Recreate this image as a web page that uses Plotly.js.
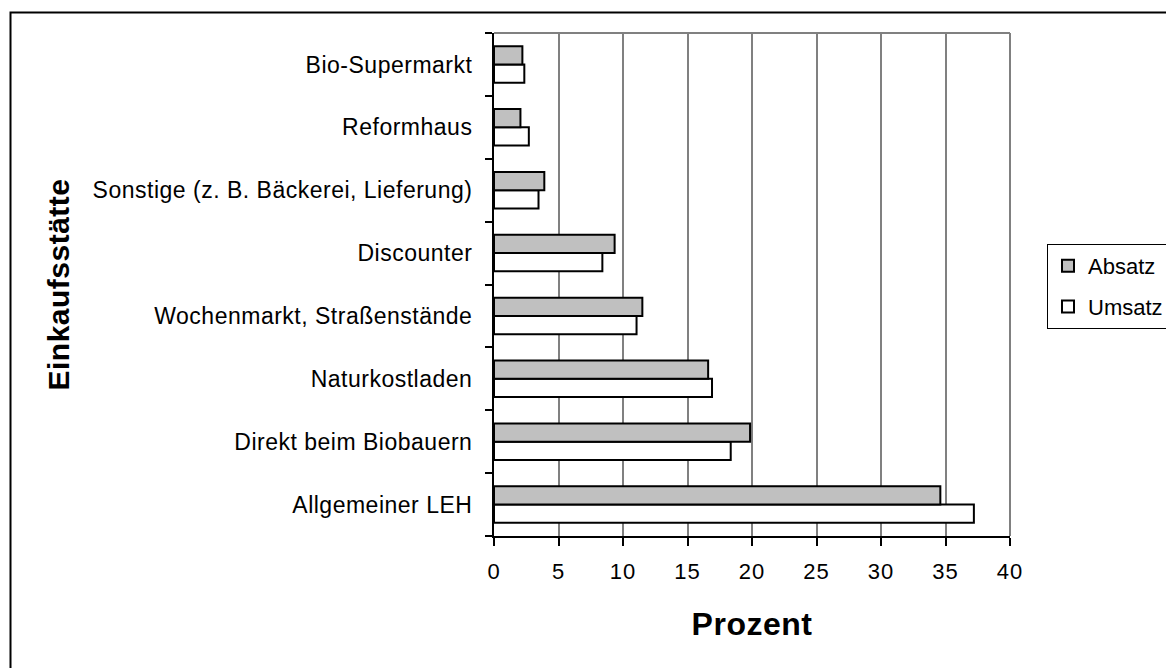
<!DOCTYPE html>
<html>
<head>
<meta charset="utf-8">
<script src="https://cdn.plot.ly/plotly-3.0.1.min.js"></script>
<style>
html, body { margin: 0; padding: 0; background: #fff; }
#chart { width: 1166px; height: 668px; }
#chart .ytick text { letter-spacing: 0.5px; }
#chart .xtick text { letter-spacing: 1px; }
#chart .g-xtitle text, #chart .g-ytitle text { letter-spacing: 0.5px; }
</style>
</head>
<body>
<div id="chart"></div>
<script>
// Categories, bottom to top
const categories = [
  "Allgemeiner LEH",
  "Direkt beim Biobauern",
  "Naturkostladen",
  "Wochenmarkt, Straßenstände",
  "Discounter",
  "Sonstige (z. B. Bäckerei, Lieferung)",
  "Reformhaus",
  "Bio-Supermarkt"
];
const absatz = [34.6, 19.85, 16.6, 11.5, 9.35, 3.9, 2.05, 2.2];
const umsatz = [37.2, 18.35, 16.9, 11.05, 8.4, 3.45, 2.7, 2.35];
const xTicks = [0, 5, 10, 15, 20, 25, 30, 35, 40];
const seriesNames = ["Absatz", "Umsatz"];

const FONT = "Liberation Sans, Arial, Helvetica, sans-serif";

const traceUmsatz = {
  type: "bar", orientation: "h",
  name: seriesNames[1], x: umsatz, y: categories,
  marker: { color: "#FFFFFF", line: { color: "#000000", width: 2 } },
  legendgroup: "u", legendrank: 2, hoverinfo: "x+name"
};
const traceAbsatz = {
  type: "bar", orientation: "h",
  name: seriesNames[0], x: absatz, y: categories,
  marker: { color: "#C0C0C0", line: { color: "#000000", width: 2 } },
  legendgroup: "a", legendrank: 1, hoverinfo: "x+name"
};

const W = 1166, H = 668;
const L = 494, R = 1010, T = 33, B = 536;
const px = v => (v - L) / (R - L);
const py = v => (B - v) / (B - T);

const layout = {
  width: W, height: H,
  margin: { l: L, r: W - R, t: T, b: H - B, pad: 0, autoexpand: false },
  paper_bgcolor: "#FFFFFF", plot_bgcolor: "#FFFFFF",
  font: { family: FONT, size: 22, color: "#000000" },
  barmode: "group", bargap: 0.42, bargroupgap: 0,
  showlegend: true,
  legend: {
    x: px(1047), y: py(244), xanchor: "left", yanchor: "top",
    bordercolor: "#000000", borderwidth: 1, bgcolor: "#FFFFFF",
    font: { family: FONT, size: 22, color: "#000000" },
    traceorder: "grouped", tracegroupgap: 9,
    entrywidth: 95, entrywidthmode: "pixels"
  },
  xaxis: {
    range: [0, 40], tickvals: xTicks, ticktext: xTicks.map(String),
    showgrid: true, gridcolor: "#808080", gridwidth: 2,
    showline: true, linecolor: "#000000", linewidth: 2,
    ticks: "outside", ticklen: 8, tickwidth: 2, tickcolor: "#000000",
    zeroline: false, fixedrange: true, automargin: false,
    tickfont: { family: FONT, size: 22, color: "#000000" },
    ticklabelstandoff: 7,
    title: { text: "Prozent", font: { family: FONT, size: 32, color: "#000000", weight: "bold" }, standoff: 29 }
  },
  yaxis: {
    type: "category", categoryorder: "array", categoryarray: categories,
    showgrid: false, showline: true, linecolor: "#000000", linewidth: 2,
    ticks: "outside", tickson: "boundaries", ticklen: 7, tickwidth: 2, tickcolor: "#000000",
    zeroline: false, fixedrange: true, automargin: false,
    tickfont: { family: FONT, size: 23, color: "#000000" },
    ticklabelstandoff: 15,
    title: { text: "Einkaufsstätte", font: { family: FONT, size: 30, color: "#000000", weight: "bold" }, standoff: 32 }
  },
  shapes: [
    { type: "line", xref: "paper", yref: "paper", x0: 0, x1: 1, y0: 1, y1: 1, line: { color: "#808080", width: 2 }, layer: "below" },
    { type: "line", xref: "paper", yref: "paper", x0: 1, x1: 1, y0: 0, y1: 1, line: { color: "#808080", width: 2 }, layer: "below" },
    { type: "rect", xref: "paper", yref: "paper", x0: px(10.5), x1: px(1180), y0: py(12.5), y1: py(690), line: { color: "#000000", width: 2 }, fillcolor: "rgba(0,0,0,0)" }
  ]
};

Plotly.newPlot("chart", [traceUmsatz, traceAbsatz], layout, { displayModeBar: false, staticPlot: true });
</script>
</body>
</html>
